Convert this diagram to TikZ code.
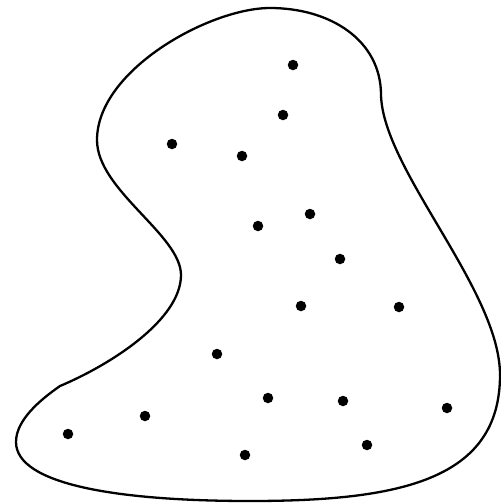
\documentclass[tikz,border=0pt]{standalone}
\usepackage{tikz}

\begin{document}
\begin{tikzpicture}[
    x = 1pt, y = -1pt, % pixel-like units, y pointing down
    line width = 2.3pt
]
\tikzstyle{pnt}=[
    circle,
    fill = black,
    inner sep = 0pt,
    minimum size = 10.5pt
]

\useasboundingbox (0,0) rectangle (501,504);

% region boundary
\coordinate (top) at (270,8);
\coordinate (neck) at (381,95);
\coordinate (east) at (500,375);
\coordinate (south) at (250,501);
\coordinate (west) at (16,442);
\coordinate (kink) at (60,386);
\coordinate (bay) at (181,275);
\coordinate (nw) at (97,140);

\draw[line join=round]
    (top) .. controls (330,8) and (381,40) .. (neck)
    .. controls (383,170) and (500,290) .. (east)
    .. controls (500,480) and (400,501) .. (south)
    .. controls (120,501) and (16,485) .. (west)
    .. controls (16,420) and (40,400) .. (kink)
    .. controls (110,365) and (181,320) .. (bay)
    .. controls (181,235) and (97,190) .. (nw)
    .. controls (97,70) and (210,8) .. (top) -- cycle;

% points
\node[pnt] (p1) at (293,65) {};
\node[pnt] (p2) at (283,115) {};
\node[pnt] (p3) at (172,144) {};
\node[pnt] (p4) at (242,156) {};
\node[pnt] (p5) at (310,214) {};
\node[pnt] (p6) at (258,226) {};
\node[pnt] (p7) at (340,259) {};
\node[pnt] (p8) at (301,306) {};
\node[pnt] (p9) at (399,307) {};
\node[pnt] (p10) at (217,354) {};
\node[pnt] (p11) at (268,398) {};
\node[pnt] (p12) at (343,401) {};
\node[pnt] (p13) at (447,408) {};
\node[pnt] (p14) at (145,416) {};
\node[pnt] (p15) at (68,434) {};
\node[pnt] (p16) at (367,445) {};
\node[pnt] (p17) at (245,455) {};

\end{tikzpicture}
\end{document}
